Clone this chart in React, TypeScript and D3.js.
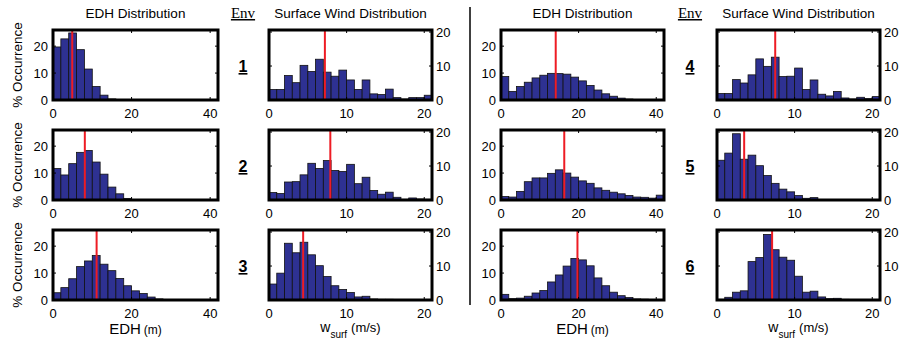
import React from 'react';
import * as d3 from 'd3';

// bin starts (EDH bins are 2 m wide, wind bins 1 m/s wide)
const EDH_BINS = [0, 2, 4, 6, 8, 10, 12, 14, 16, 18, 20, 22, 24, 26, 28, 30, 32, 34, 36, 38, 40];
const WIND_BINS = [0, 1, 2, 3, 4, 5, 6, 7, 8, 9, 10, 11, 12, 13, 14, 15, 16, 17, 18, 19, 20];
const EDH_X_TICKS = [0, 20, 40];
const WIND_X_TICKS = [0, 10, 20];
const Y_TICKS = [0, 10, 20];
const ENV_IDS = ['1', '2', '3', '4', '5', '6'];

// % occurrence per bin, environments 1..6
const EDH_1 = [19.7, 22.7, 24.9, 18.7, 11.5, 5.0, 1.8, 0.4, 0.1, 0, 0, 0, 0, 0, 0, 0, 0, 0, 0, 0, 0];
const EDH_2 = [11.7, 9.3, 13.5, 17.7, 18.4, 14.1, 9.6, 4.8, 2.3, 0.6, 0.1, 0, 0, 0, 0, 0, 0, 0, 0, 0.1, 0];
const EDH_3 = [2.7, 4.6, 7.9, 12.4, 14.5, 16.5, 13.3, 10.9, 8.0, 5.3, 3.4, 2.4, 1.1, 0.4, 0.2, 0.1, 0, 0, 0, 0, 0];
const EDH_4 = [8.7, 3.2, 5.0, 6.6, 8.2, 9.2, 9.9, 9.8, 9.6, 8.5, 7.1, 5.4, 3.7, 2.3, 1.4, 0.7, 0.35, 0.1, 0.05, 0, 0];
const EDH_5 = [1.3, 1.1, 3.2, 6.8, 8.2, 8.2, 9.9, 11.2, 10.0, 8.5, 7.1, 6.2, 4.5, 3.6, 2.9, 2.3, 1.7, 1.1, 1.0, 0.7, 1.8];
const EDH_6 = [2.1, 0.5, 0.7, 1.4, 2.6, 3.5, 6.7, 9.3, 12.6, 15.4, 14.9, 12.7, 8.2, 5.3, 2.9, 1.6, 0.9, 0.4, 0.3, 0.2, 0.2];

const WIND_1 = [3.1, 3.1, 7.2, 5.1, 10.2, 8.4, 12.0, 8.2, 7.0, 8.8, 5.9, 3.1, 5.9, 1.8, 1.6, 3.2, 0.7, 0.3, 0.7, 0.7, 1.4];
const WIND_2 = [2.2, 1.9, 5.3, 5.4, 7.4, 10.8, 9.3, 11.6, 8.7, 8.4, 10.5, 4.8, 6.7, 2.8, 1.7, 2.3, 0.8, 0.2, 0.6, 0.3, 0.2];
const WIND_3 = [4.7, 7.9, 16.7, 13.9, 17.0, 13.3, 10.1, 6.9, 4.2, 3.1, 2.2, 0.9, 1.1, 0.3, 0.2, 0.2, 0.1, 0.1, 0.1, 0.1, 0.1];
const WIND_4 = [1.9, 1.9, 6.0, 5.0, 7.4, 12.1, 9.9, 12.6, 6.9, 7.0, 9.4, 3.1, 5.9, 1.7, 1.2, 2.5, 0.6, 0.3, 0.8, 0.4, 1.0];
const WIND_5 = [11.7, 13.8, 19.5, 12.0, 13.2, 10.1, 7.2, 4.9, 3.2, 2.4, 1.3, 0.5, 0.7, 0.1, 0, 0, 0, 0, 0, 0.1, 0];
const WIND_6 = [0.2, 0.8, 2.3, 2.7, 11.3, 12.5, 19.3, 14.8, 12.6, 11.7, 7.0, 2.3, 2.6, 0.9, 0.4, 0.5, 0.2, 0.1, 0.1, 0.1, 0.1];

const EDH_MEAN = [4.9, 8.1, 11.1, 14.1, 16.3, 19.7];
const WIND_MEAN = [7.2, 7.9, 4.4, 7.5, 3.5, 7.1];

const EDH_DATA = [EDH_1, EDH_2, EDH_3, EDH_4, EDH_5, EDH_6];
const WIND_DATA = [WIND_1, WIND_2, WIND_3, WIND_4, WIND_5, WIND_6];

const W = 902;
const H = 341;
const FONT = 'Liberation Sans, Arial, Helvetica, sans-serif';
const BAR_FILL = '#2e3192';
const RED = '#ee1c24';

const ROW_TOPS = [30, 130, 230];
const PANEL_H = 70;
// [edh left, edh right, wind left, wind right] per side
const SIDES = [
  { edh: [53, 218], wind: [269, 432], envX: 243 },
  { edh: [501, 664], wind: [717, 880], envX: 690 },
];

interface PanelProps {
  x0: number;
  x1: number;
  top: number;
  bins: number[];
  binWidth: number;
  values: number[];
  mean: number;
  xMax: number;
  yMax: number;
  xTicks: number[];
  yRight: boolean;
}

const Panel: React.FC<PanelProps> = ({ x0, x1, top, bins, binWidth, values, mean, xMax, yMax, xTicks, yRight }) => {
  const bottom = top + PANEL_H;
  const x = d3.scaleLinear().domain([0, xMax]).range([x0, x1]);
  const y = d3.scaleLinear().domain([0, yMax]).range([bottom, top]);

  return (
    <g>
      {bins.map((b, i) => {
        const v = values[i];
        if (!v) return null;
        return (
          <rect
            key={i}
            x={x(b)}
            y={y(v)}
            width={x(b + binWidth) - x(b)}
            height={bottom - y(v)}
            fill={BAR_FILL}
            stroke="#111"
            strokeWidth={0.8}
          />
        );
      })}
      <line x1={x(mean)} x2={x(mean)} y1={bottom} y2={top} stroke={RED} strokeWidth={2} />
      {/* inward ticks */}
      {xTicks.map(t => (
        <g key={'xt' + t}>
          <line x1={x(t)} x2={x(t)} y1={bottom} y2={bottom - 3} stroke="#000" strokeWidth={1} />
          <line x1={x(t)} x2={x(t)} y1={top} y2={top + 3} stroke="#000" strokeWidth={1} />
        </g>
      ))}
      {Y_TICKS.map(t => (
        <g key={'yt' + t}>
          <line x1={x0} x2={x0 + 3} y1={y(t)} y2={y(t)} stroke="#000" strokeWidth={1} />
          <line x1={x1} x2={x1 - 3} y1={y(t)} y2={y(t)} stroke="#000" strokeWidth={1} />
        </g>
      ))}
      <rect x={x0} y={top} width={x1 - x0} height={PANEL_H} fill="none" stroke="#000" strokeWidth={3} />
      {xTicks.map(t => (
        <text key={'xl' + t} x={x(t)} y={bottom + 18} textAnchor="middle" fontSize={13} fontFamily={FONT}>
          {t}
        </text>
      ))}
      {Y_TICKS.map(t => (
        <text
          key={'yl' + t}
          x={yRight ? x1 + 4 : x0 - 5}
          y={y(t) + 4.5}
          textAnchor={yRight ? 'start' : 'end'}
          fontSize={13}
          fontFamily={FONT}
        >
          {t}
        </text>
      ))}
    </g>
  );
};

const App: React.FC = () => {
  return (
    <svg width={W} height={H} style={{ position: 'absolute', left: 0, top: 0, background: '#fff' }}>
      {SIDES.map((side, s) => (
        <g key={s}>
          <text x={(side.edh[0] + side.edh[1]) / 2} y={18} textAnchor="middle" fontSize={13.5} fontFamily={FONT}>
            EDH Distribution
          </text>
          <text x={(side.wind[0] + side.wind[1]) / 2} y={18} textAnchor="middle" fontSize={13.5} fontFamily={FONT}>
            Surface Wind Distribution
          </text>
          <text x={side.envX} y={18} textAnchor="middle" fontSize={15} fontFamily="Liberation Serif, Times New Roman, serif" textDecoration="underline">
            Env
          </text>
          {ROW_TOPS.map((top, r) => {
            const env = s * 3 + r;
            return (
              <g key={r}>
                <Panel
                  x0={side.edh[0]}
                  x1={side.edh[1]}
                  top={top}
                  bins={EDH_BINS}
                  binWidth={2}
                  values={EDH_DATA[env]}
                  mean={EDH_MEAN[env]}
                  xMax={42}
                  yMax={26}
                  xTicks={EDH_X_TICKS}
                  yRight={false}
                />
                <Panel
                  x0={side.wind[0]}
                  x1={side.wind[1]}
                  top={top}
                  bins={WIND_BINS}
                  binWidth={1}
                  values={WIND_DATA[env]}
                  mean={WIND_MEAN[env]}
                  xMax={21}
                  yMax={20.6}
                  xTicks={WIND_X_TICKS}
                  yRight={true}
                />
                <text
                  x={side.envX}
                  y={top + 42}
                  textAnchor="middle"
                  fontSize={16}
                  fontWeight="bold"
                  fontFamily={FONT}
                  textDecoration="underline"
                >
                  {ENV_IDS[env]}
                </text>
                {s === 0 && (
                  <text
                    transform={`translate(22,${top + PANEL_H / 2}) rotate(-90)`}
                    textAnchor="middle"
                    fontSize={13.5}
                    fontFamily={FONT}
                  >
                    % Occurrence
                  </text>
                )}
              </g>
            );
          })}
          <text x={(side.edh[0] + side.edh[1]) / 2} y={334} textAnchor="middle" fontFamily={FONT}>
            <tspan fontSize={15}>EDH</tspan>
            <tspan fontSize={12} dx={3}>(m)</tspan>
          </text>
          <text x={(side.wind[0] + side.wind[1]) / 2} y={332} textAnchor="middle" fontFamily={FONT}>
            <tspan fontSize={14}>w</tspan>
            <tspan fontSize={10} dy={6}>surf</tspan>
            <tspan fontSize={13} dx={4} dy={-6}>(m/s)</tspan>
          </text>
        </g>
      ))}
      <line x1={470} x2={470} y1={7} y2={305} stroke="#000" strokeWidth={1.5} />
    </svg>
  );
};

export default App;
